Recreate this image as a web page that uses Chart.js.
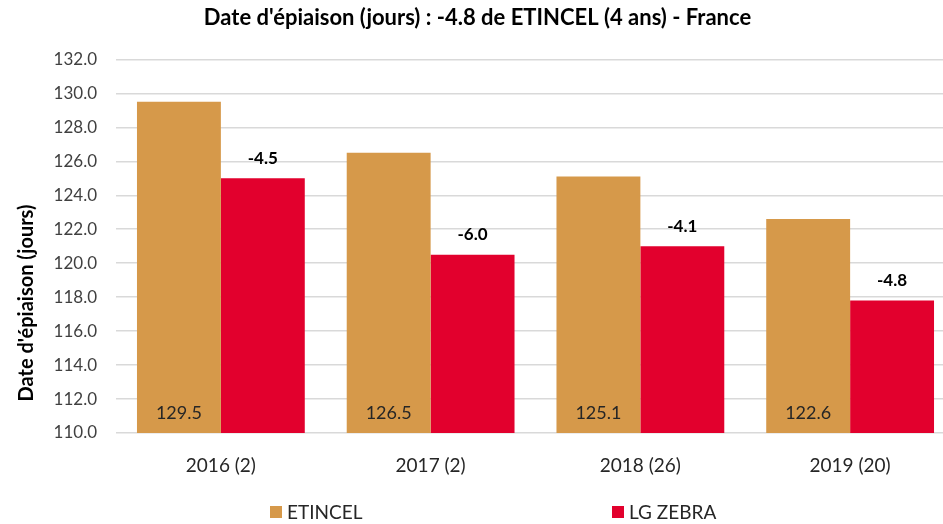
<!DOCTYPE html>
<html>
<head>
<meta charset="utf-8">
<script src="https://cdn.jsdelivr.net/npm/chart.js@4"></script>
<style>
  html, body { margin: 0; padding: 0; background: #fff; overflow: hidden; }
  #wrap { width: 966px; height: 524px; }
</style>
</head>
<body>
<div id="wrap"><canvas id="chart"></canvas></div>
<script>
const years = ['2016 (2)', '2017 (2)', '2018 (26)', '2019 (20)'];
const etincel = [129.5, 126.5, 125.1, 122.6];
const lgZebra = [125.0, 120.5, 121.0, 117.8];
const yTicks = [110, 112, 114, 116, 118, 120, 122, 124, 126, 128, 130, 132];

const ORANGE = '#D6994A';
const RED = '#E2002D';
const FONT = 'Lato, "Liberation Sans", sans-serif';

// value inside ETINCEL bars, difference above LG ZEBRA bars, axis title, legend
const labelsPlugin = {
    id: 'labels',
    afterDatasetsDraw(chart) {
        const ctx = chart.ctx;
        const yScale = chart.scales.y;
        ctx.save();
        ctx.textAlign = 'center';
        ctx.textBaseline = 'middle';

        chart.getDatasetMeta(0).data.forEach((bar, i) => {
            ctx.font = '18px ' + FONT;
            ctx.fillStyle = '#262626';
            ctx.fillText(etincel[i].toFixed(1), bar.x, yScale.bottom - 20);
        });

        chart.getDatasetMeta(1).data.forEach((bar, i) => {
            const diff = lgZebra[i] - etincel[i];
            ctx.font = 'bold 17px ' + FONT;
            ctx.fillStyle = '#000';
            ctx.fillText(diff.toFixed(1), bar.x, bar.y - 20);
        });

        // y axis title
        ctx.save();
        ctx.translate(27, 303);
        ctx.rotate(-Math.PI / 2);
        ctx.font = 'bold 20px ' + FONT;
        ctx.fillStyle = '#000';
        ctx.fillText("Date d'épiaison (jours)", 0, 0);
        ctx.restore();

        // legend
        const legendY = 512;
        const items = [
            { text: 'ETINCEL', color: ORANGE, x: 270 },
            { text: 'LG ZEBRA', color: RED, x: 612 }
        ];
        ctx.textAlign = 'left';
        ctx.font = '19px ' + FONT;
        items.forEach(item => {
            ctx.fillStyle = item.color;
            ctx.fillRect(item.x, legendY - 6, 12, 12);
            ctx.fillStyle = '#262626';
            ctx.fillText(item.text, item.x + 17, legendY + 1);
        });
        ctx.restore();
    }
};

new Chart(document.getElementById('chart'), {
    type: 'bar',
    data: {
        labels: years,
        datasets: [
            { label: 'ETINCEL', data: etincel, backgroundColor: ORANGE },
            { label: 'LG ZEBRA', data: lgZebra, backgroundColor: RED }
        ]
    },
    options: {
        responsive: true,
        maintainAspectRatio: false,
        animation: false,
        layout: { padding: { left: 0, right: 11, top: 0, bottom: 0 } },
        datasets: {
            bar: { categoryPercentage: 0.8, barPercentage: 1.0 }
        },
        plugins: {
            legend: { display: false },
            tooltip: { enabled: false },
            title: {
                display: true,
                text: "Date d'épiaison (jours) : -4.8 de ETINCEL (4 ans) - France",
                color: '#000',
                font: { family: FONT, size: 22, weight: 'bold', lineHeight: 1.2 },
                padding: { top: 5, bottom: 28 }
            }
        },
        scales: {
            x: {
                grid: { display: false },
                border: { display: false },
                ticks: {
                    color: '#262626',
                    font: { family: FONT, size: 19 },
                    padding: 13
                },
                afterFit(scale) { scale.height = 91; }
            },
            y: {
                min: 110,
                max: 132,
                afterBuildTicks(scale) { scale.ticks = yTicks.map(v => ({ value: v })); },
                grid: { color: '#D9D9D9', lineWidth: 1.5, drawTicks: false },
                border: { display: false },
                ticks: {
                    color: '#404040',
                    font: { family: FONT, size: 17 },
                    padding: 19,
                    callback: v => v.toFixed(1)
                },
                afterFit(scale) { scale.width = 116; }
            }
        }
    },
    plugins: [labelsPlugin]
});
</script>
</body>
</html>
